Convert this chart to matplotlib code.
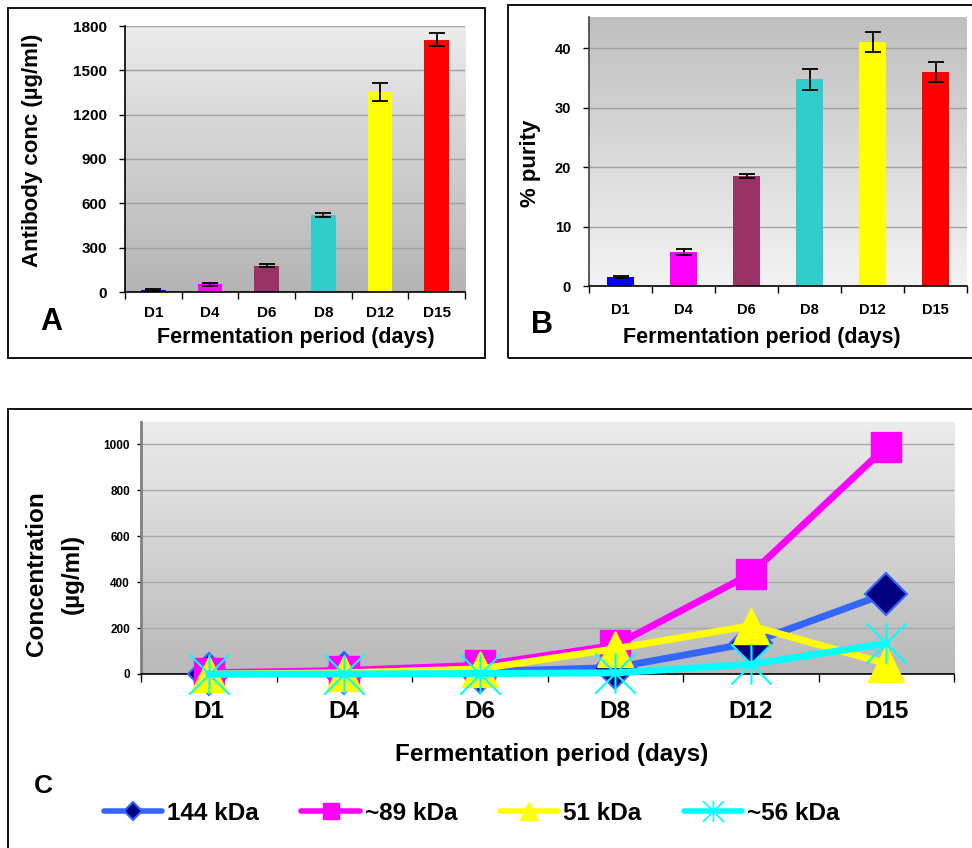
import numpy as np
import matplotlib
matplotlib.use("Agg")
import matplotlib.pyplot as plt
from matplotlib.colors import LinearSegmentedColormap
from matplotlib.patches import Rectangle
from matplotlib.lines import Line2D
from matplotlib.path import Path

plt.rcParams['font.family'] = ['Liberation Sans', 'DejaVu Sans']
plt.rcParams['font.weight'] = 'bold'

# ---------------- data ----------------
days = ["D1", "D4", "D6", "D8", "D12", "D15"]
bar_colors = ["#0000FF", "#FF00FF", "#993366", "#33CCCC", "#FFFF00", "#FF0000"]

antibody_conc = [15, 52, 178, 520, 1355, 1708]
antibody_err = [5, 10, 10, 15, 62, 42]

purity = [1.45, 5.7, 18.5, 34.8, 41.1, 36.1]
purity_err = [0.15, 0.55, 0.35, 1.8, 1.7, 1.7]

series_labels = ["144 kDa", "~89 kDa", "51 kDa", "~56 kDa"]
conc_144 = [0, 5, 10, 28, 135, 350]
conc_89 = [5, 15, 38, 125, 435, 988]
conc_51 = [0, 5, 22, 110, 210, 45]
conc_56 = [0, 0, 2, 5, 42, 133]

A_yticks = [0, 300, 600, 900, 1200, 1500, 1800]
B_yticks = [0, 10, 20, 30, 40]
C_yticks = [0, 200, 400, 600, 800, 1000]

# ---------------- helpers ----------------
W, H = 972, 848
def fx(x):
    return x / W
def fy(y):
    return 1 - y / H

def gradient_bg(ax, top, bottom):
    g = np.linspace(0, 1, 256).reshape(-1, 1)
    cmap = LinearSegmentedColormap.from_list('g', [bottom, top])
    ax.imshow(g, extent=[0, 1, 0, 1], transform=ax.transAxes, origin='lower',
              cmap=cmap, aspect='auto', zorder=-10, interpolation='bicubic')

fig = plt.figure(figsize=(W / 100, H / 100), dpi=100)

# panel frames
fig.add_artist(Rectangle((fx(8), fy(358)), 477 / W, 350 / H, transform=fig.transFigure,
                         fill=False, lw=1.3, ec='black'))
fig.add_artist(Rectangle((fx(508), fy(358)), 480 / W, 353 / H, transform=fig.transFigure,
                         fill=False, lw=1.3, ec='black'))
fig.add_artist(Rectangle((fx(8), fy(870)), 990 / W, 461 / H, transform=fig.transFigure,
                         fill=False, lw=1.3, ec='black'))

x = np.arange(len(days))

def style_bar_axes(ax, ymax, yticks, xpad, ypad, fs_x, fs_y):
    ax.set_xlim(-0.5, len(days) - 0.5)
    ax.set_ylim(0, ymax)
    ax.set_yticks(yticks)
    ax.set_yticklabels([str(t) for t in yticks], fontsize=fs_y, fontweight='bold')
    ax.set_xticks(x)
    ax.set_xticklabels(days, fontsize=fs_x, fontweight='bold')
    ax.set_xticks(np.arange(-0.5, len(days)), minor=True)
    ax.tick_params(axis='x', which='major', length=0, pad=xpad)
    ax.tick_params(axis='x', which='minor', length=5, width=1, direction='out')
    ax.tick_params(axis='y', which='major', length=4, width=1, direction='out', pad=ypad)
    for s in ['top', 'right']:
        ax.spines[s].set_visible(False)
    ax.spines['bottom'].set_linewidth(1.2)
    ax.spines['left'].set_linewidth(1.2)
    ax.set_axisbelow(True)
    ax.grid(axis='y', color='#a0a0a0', lw=1)

# ---------------- panel A ----------------
axA = fig.add_axes([fx(125), fy(292), 340 / W, 266 / H])
gradient_bg(axA, '#ececec', '#b4b4b4')
axA.bar(x, antibody_conc, width=0.44, color=bar_colors, yerr=antibody_err, capsize=5.5,
        error_kw=dict(elinewidth=1.3, capthick=1.3, ecolor='black'), zorder=2)
style_bar_axes(axA, 1800, A_yticks, 10, 9, 11, 11)
fig.text(fx(33), fy(150), 'Antibody conc (µg/ml)', rotation=90, ha='center', va='center',
         fontsize=16, fontweight='bold')
fig.text(fx(296), fy(337), 'Fermentation period (days)', ha='center', va='center',
         fontsize=15.5, fontweight='bold')
fig.text(fx(51), fy(322), 'A', ha='center', va='center', fontsize=22, fontweight='bold')

# ---------------- panel B ----------------
axB = fig.add_axes([fx(589), fy(286), (967 - 589) / W, (286 - 17) / H])
gradient_bg(axB, '#bfbfbf', '#f3f3f3')
axB.bar(x, purity, width=0.44, color=bar_colors, yerr=purity_err, capsize=5.5,
        error_kw=dict(elinewidth=1.3, capthick=1.3, ecolor='black'), zorder=2)
style_bar_axes(axB, 45.3, B_yticks, 12, 9, 10.5, 10.5)
axB.spines['left'].set_color('#404040')
fig.text(fx(530), fy(163), '% purity', rotation=90, ha='center', va='center',
         fontsize=16, fontweight='bold')
fig.text(fx(762), fy(337), 'Fermentation period (days)', ha='center', va='center',
         fontsize=15.5, fontweight='bold')
fig.text(fx(542), fy(325), 'B', ha='center', va='center', fontsize=22, fontweight='bold')

# ---------------- panel C ----------------
axC = fig.add_axes([fx(141), fy(674), (954 - 141) / W, (674 - 422) / H])
gradient_bg(axC, '#ececec', '#b9b9b9')

star = Path([(0, -1), (0, 1), (-1, -1), (1, 1), (-1, 1), (1, -1)],
            [Path.MOVETO, Path.LINETO, Path.MOVETO, Path.LINETO, Path.MOVETO, Path.LINETO])

styles = [
    dict(color='#3366FF', marker='D', markersize=21, mfc='#000080', mec='#3366FF', mew=1.5),
    dict(color='#FF00FF', marker='s', markersize=22, mfc='#FF00FF', mec='#FF00FF', mew=1),
    dict(color='#FFFF00', marker='^', markersize=26, mfc='#FFFF00', mec='#FFFF00', mew=1),
    dict(color='#00FFFF', marker=star, markersize=29, mfc='none', mec='#00FFFF', mew=1.5),
]
legend_ms = [9, 11, 13, 15]
series = [conc_144, conc_89, conc_51, conc_56]
handles = []
for i, (vals, st) in enumerate(zip(series, styles)):
    axC.plot(x, vals, lw=5, clip_on=False, zorder=3 + i, solid_capstyle='round',
             solid_joinstyle='round', **st)
    hst = dict(st)
    hst['markersize'] = legend_ms[i]
    if i == 3:
        hst['mew'] = 1.2
    handles.append(Line2D([], [], lw=4, solid_capstyle='round', **hst))

axC.set_xlim(-0.5, len(days) - 0.5)
axC.set_ylim(0, 1096)
axC.set_yticks(C_yticks)
axC.set_yticklabels([str(t) for t in C_yticks], fontsize=8.5, fontweight='bold')
axC.set_xticks(x)
axC.set_xticklabels(days, fontsize=17.5, fontweight='bold')
axC.set_xticks(np.arange(-0.5, len(days)), minor=True)
axC.tick_params(axis='x', which='major', length=0, pad=19)
axC.tick_params(axis='x', which='minor', length=6, width=1, direction='out')
axC.tick_params(axis='y', which='major', length=3, width=1, direction='out', pad=5)
for s in ['top', 'right']:
    axC.spines[s].set_visible(False)
axC.spines['bottom'].set_linewidth(1.2)
axC.spines['left'].set_linewidth(2)
axC.spines['left'].set_color('#808080')
axC.set_axisbelow(True)
axC.grid(axis='y', color='#a8a8a8', lw=1)

fig.text(fx(37), fy(574), 'Concentration', rotation=90, ha='center', va='center',
         fontsize=17.5, fontweight='bold')
fig.text(fx(72), fy(574), '(µg/ml)', rotation=90, ha='center', va='center',
         fontsize=17.5, fontweight='bold')
fig.text(fx(552), fy(755), 'Fermentation period (days)', ha='center', va='center',
         fontsize=17.5, fontweight='bold')
fig.text(fx(43), fy(786), 'C', ha='center', va='center', fontsize=19, fontweight='bold')

fig.legend(handles, series_labels, loc='center left', bbox_to_anchor=(fx(104), fy(813)),
           ncol=4, frameon=False, prop={'weight': 'bold', 'size': 17.5},
           handlelength=2.4, handletextpad=0.2, columnspacing=1.75,
           borderaxespad=0, borderpad=0)

fig.savefig('out.png', dpi=100)
